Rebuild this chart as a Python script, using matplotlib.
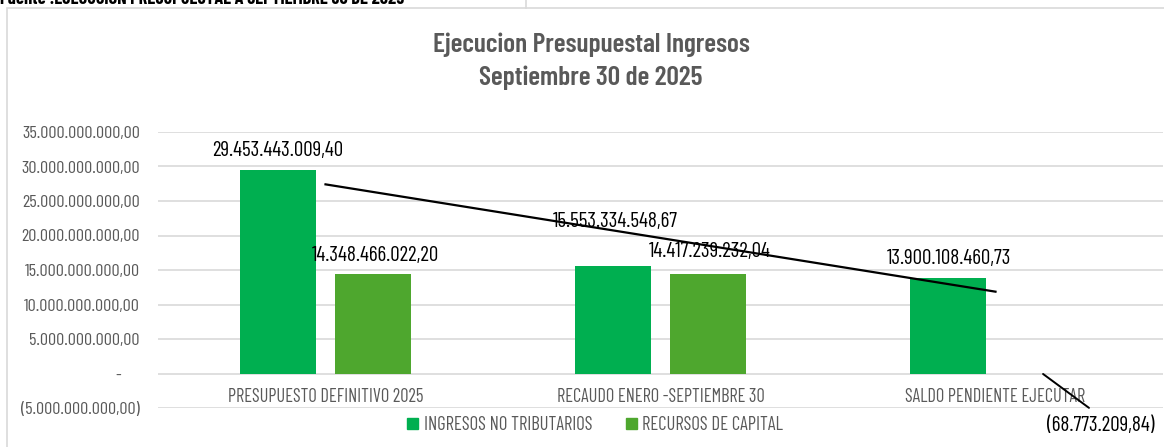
import numpy as np
import matplotlib
matplotlib.use("Agg")
import matplotlib.pyplot as plt
from matplotlib.patches import Rectangle
from matplotlib.lines import Line2D
from matplotlib.ticker import FuncFormatter, MultipleLocator

categories = ["PRESUPUESTO DEFINITIVO 2025", "RECAUDO ENERO -SEPTIEMBRE 30", "SALDO PENDIENTE EJECUTAR"]
series_names = ["INGRESOS NO TRIBUTARIOS", "RECURSOS DE CAPITAL"]
ingresos_no_tributarios = [29453443009.40, 15553334548.67, 13900108460.73]
recursos_de_capital = [14348466022.20, 14417239232.04, -68773209.84]
title_lines = ["Ejecucion Presupuestal Ingresos", "Septiembre 30 de 2025"]
source_text = "Fuente :EJECUCION PRESUPUESTAL A SEPTIEMBRE 30 DE 2025"

FONT = ["Barlow Condensed", "IBM Plex Sans Condensed", "DejaVu Sans"]
plt.rcParams["font.family"] = FONT

C1 = "#00AF50"
C2 = "#4EA72E"
GRAY = "#595959"
GRID = "#D9D9D9"

def fmt_num(v):
    s = f"{abs(v):,.2f}"
    s = s.replace(",", "X").replace(".", ",").replace("X", ".")
    return f"({s})" if v < 0 else s

def tick_fmt(v, pos):
    if abs(v) < 1:
        return "-     "
    return fmt_num(v)

W, H = 1164, 447
fig = plt.figure(figsize=(W / 100, H / 100), dpi=100)

# chart border and source caption
fig.patches.append(Rectangle((7 / W, -0.1), 1.2, 1 - 8 / H + 0.1, transform=fig.transFigure,
                             fill=False, edgecolor=GRID, linewidth=1.2))
fig.lines.append(Line2D([526 / W, 526 / W], [1 - 8 / H, 1.0], transform=fig.transFigure,
                        color=GRID, linewidth=1.2))
fig.text(0.0, 1 - 4 / H, source_text, fontsize=13.2, fontweight="bold", color="black",
         ha="left", va="baseline")

ax = fig.add_axes([158 / W, 1 - 408 / H, (1163 - 158) / W, (408 - 132) / H])
x = np.arange(len(categories))
bw = 0.227
off = 0.142
ax.bar(x - off, ingresos_no_tributarios, width=bw, color=C1, zorder=3)
ax.bar(x + off, recursos_de_capital, width=bw, color=C2, zorder=3)

ax.set_xlim(-0.5, len(categories) - 0.5)
ax.set_ylim(-5e9, 35e9)
ax.yaxis.set_major_locator(MultipleLocator(5e9))
ax.yaxis.set_major_formatter(FuncFormatter(tick_fmt))
ax.grid(axis="y", color=GRID, linewidth=1.2, zorder=0)
for s in ax.spines.values():
    s.set_visible(False)
ax.tick_params(axis="y", length=0, pad=13, labelsize=13, labelcolor=GRAY)
ax.set_xticks([])

# category labels just below zero line
for i, c in enumerate(categories):
    ax.annotate(c, xy=(i, 0), xytext=(0, -17), textcoords="offset points",
                ha="center", va="center", fontsize=13.2, color=GRAY, annotation_clip=False)

# linear trendline of first series
coef = np.polyfit(x, ingresos_no_tributarios, 1)
ax.plot([x[0], x[-1]], np.polyval(coef, [x[0], x[-1]]), color="black", linewidth=1.6, zorder=4)

# data labels (offsets in points, label centre relative to bar top)
lab_off1 = [(0, 14), (1.5, 32), (1, 14)]
lab_off2 = [(1.5, 14), (1, 16)]
for i, v in enumerate(ingresos_no_tributarios):
    ax.annotate(fmt_num(v), xy=(i - off, v), xytext=lab_off1[i], textcoords="offset points",
                ha="center", va="center", fontsize=15.2, color="black", zorder=5)
for i, v in enumerate(recursos_de_capital[:2]):
    ax.annotate(fmt_num(v), xy=(i + off, v), xytext=lab_off2[i], textcoords="offset points",
                ha="center", va="center", fontsize=15.2, color="black", zorder=5)
v = recursos_de_capital[2]
ax.annotate(fmt_num(v), xy=(2 + off, v), xytext=(41.4, -37.4), textcoords="offset points",
            ha="center", va="center", fontsize=15.2, color="black", annotation_clip=False,
            arrowprops=dict(arrowstyle="-", color="black", linewidth=1.4, shrinkA=7, shrinkB=0,
                            relpos=(0.5, 1.0)))

# title
fig.text(591 / W, 1 - 45 / H, title_lines[0], ha="center", va="center", fontsize=19.8,
         fontweight=600, color=GRAY)
fig.text(591 / W, 1 - 78 / H, title_lines[1], ha="center", va="center", fontsize=19.8,
         fontweight=600, color=GRAY)

# legend
handles = [Rectangle((0, 0), 1, 1, color=C1), Rectangle((0, 0), 1, 1, color=C2)]
fig.legend(handles, series_names, loc="center", bbox_to_anchor=(595 / W, 1 - 425 / H),
           ncol=2, frameon=False, fontsize=13.4, labelcolor=GRAY, handlelength=0.6,
           handleheight=0.6, handletextpad=0.3, columnspacing=1.8)

fig.savefig("out.png", dpi=100)
